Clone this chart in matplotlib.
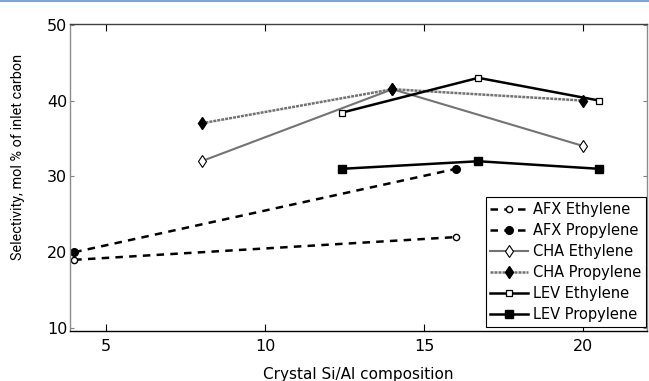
import matplotlib
matplotlib.use("Agg")
import matplotlib.pyplot as plt
from matplotlib.lines import Line2D

# Crystal Si/Al vs selectivity (mol % of inlet carbon)
afx_x = [4.0, 16.0]
afx_eth = [19, 22]
afx_prop = [20, 31]

cha_x = [8.0, 14.0, 20.0]
cha_eth = [32, 41.5, 34]
cha_prop = [37, 41.5, 40]

lev_x = [12.4, 16.7, 20.5]
lev_eth = [38.4, 43, 40]
lev_prop = [31, 32, 31]

xticks = [5, 10, 15, 20]
yticks = [10, 20, 30, 40, 50]

plt.rcParams['font.family'] = ['DejaVu Sans']

fig = plt.figure(figsize=(6.49, 3.81), dpi=100)
ax = fig.add_axes([0.108, 0.131, 0.889, 0.806])

# thin blue rule across the top of the figure
fig.add_artist(Line2D([0, 1], [0.997, 0.997], color='#7fa4d8', lw=1.5))

dash = (0, (3, 2.5))
ax.plot(afx_x, afx_eth, color='black', ls=dash, lw=1.8,
        marker='o', ms=4.5, mfc='white', mec='black', mew=1, label='AFX Ethylene')
ax.plot(afx_x, afx_prop, color='black', ls=dash, lw=1.8,
        marker='o', ms=5.5, mfc='black', mec='black', label='AFX Propylene')
ax.plot(cha_x, cha_eth, color='0.45', ls='-', lw=1.5,
        marker='d', ms=6.5, mfc='white', mec='black', mew=0.8, label='CHA Ethylene')
ax.plot(cha_x, cha_prop, color='0.45', ls=(0, (1.2, 0.4)), lw=1.8,
        marker='d', ms=6.5, mfc='black', mec='black', label='CHA Propylene')
ax.plot(lev_x, lev_eth, color='black', ls='-', lw=1.8,
        marker='s', ms=5, mfc='white', mec='black', mew=0.9, label='LEV Ethylene')
ax.plot(lev_x, lev_prop, color='black', ls='-', lw=1.8,
        marker='s', ms=5.5, mfc='black', mec='black', label='LEV Propylene')

ax.set_xlim(3.87, 22)
ax.set_ylim(9.6, 50.1)
ax.set_xticks(xticks)
ax.set_yticks(yticks)
ax.tick_params(axis='x', direction='in', top=True, length=5, width=0.8,
               labelsize=11.5, pad=6, color='black')
ax.tick_params(axis='y', direction='in', right=True, length=3, width=0.8,
               labelsize=11.5, pad=2, color='0.5')

ax.spines['left'].set_color('0.55')
ax.spines['right'].set_color('0.55')
ax.spines['top'].set_color('0.25')
ax.spines['bottom'].set_color('black')
for s in ax.spines.values():
    s.set_linewidth(1.0)

ax.set_xlabel('Crystal Si/Al composition', fontsize=11, labelpad=9)
ax.set_ylabel('Selectivity, mol % of inlet carbon', fontsize=10.4,
              family=['Roboto', 'DejaVu Sans'])
ax.yaxis.set_label_coords(-0.078, 0.567)

leg = ax.legend(loc='lower right', bbox_to_anchor=(1.005, 0.0), fontsize=10.5,
                frameon=True, fancybox=False, edgecolor='black', framealpha=1,
                handlelength=2.6, handletextpad=0.35, borderpad=0.3,
                labelspacing=0.42, borderaxespad=0.3)
leg.get_frame().set_linewidth(0.8)

fig.savefig('out.png', dpi=100)
